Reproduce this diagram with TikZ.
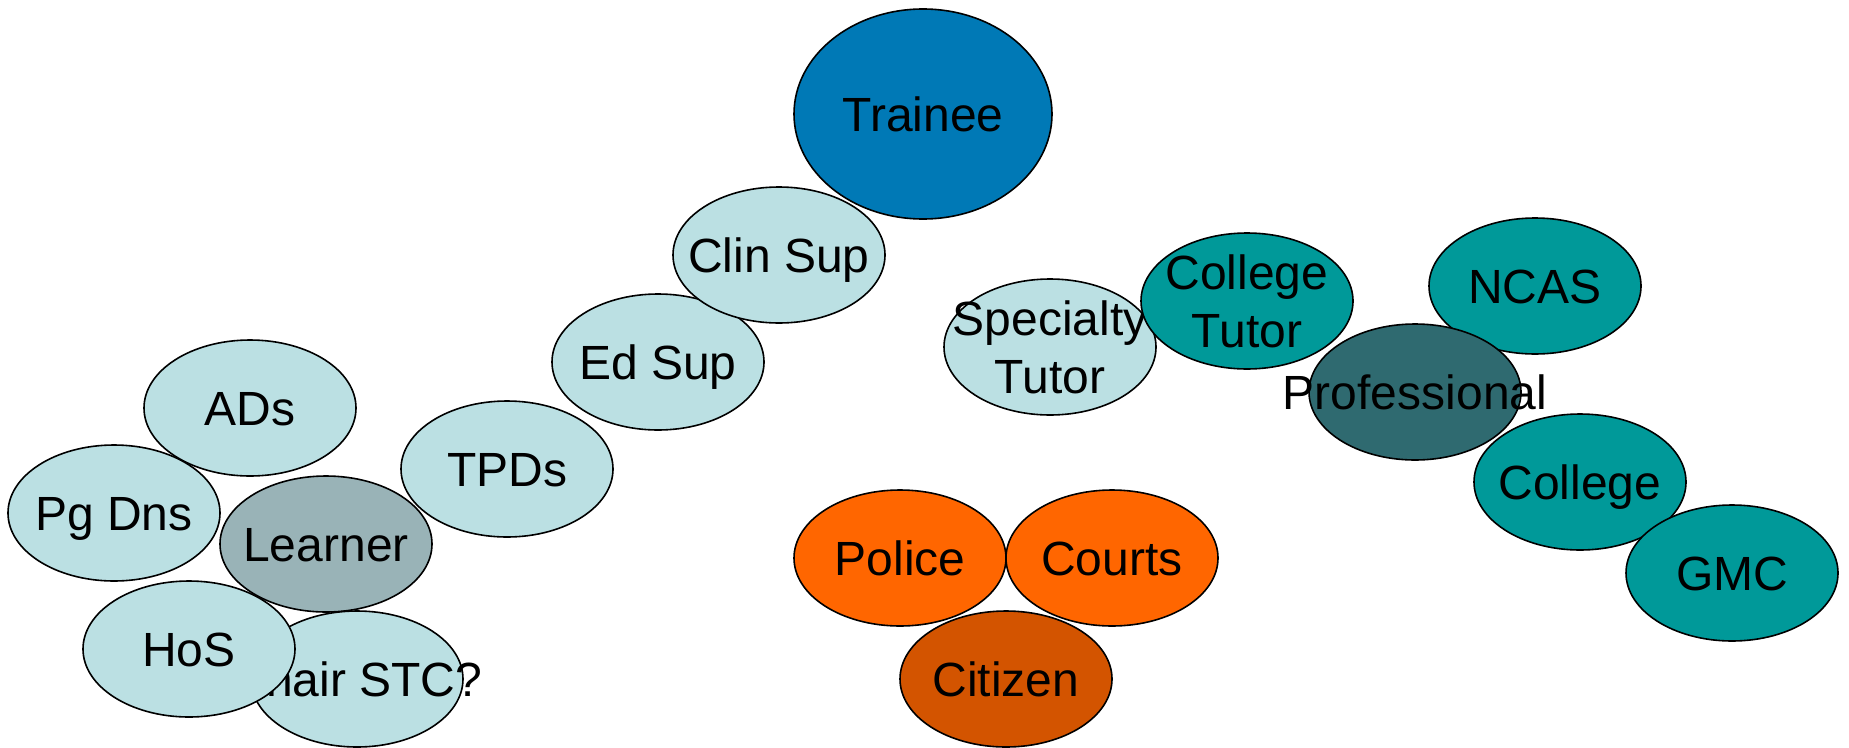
\documentclass[tikz,border=0pt]{standalone}
\usepackage{fontspec}
\setmainfont{Liberation Sans}
\usetikzlibrary{shapes.geometric}
\definecolor{lightb}{HTML}{BBE0E3}
\definecolor{learnc}{HTML}{99B3B7}
\definecolor{traineec}{HTML}{0079B6}
\definecolor{tealc}{HTML}{009999}
\definecolor{profc}{HTML}{2F6A70}
\definecolor{orangec}{HTML}{FF6600}
\definecolor{citizc}{HTML}{D35400}
\tikzset{
  oval/.style={ellipse, draw=black, line width=1.6pt, inner sep=0pt,
    minimum width=212pt, minimum height=136pt},
  txt/.style={inner sep=0pt, align=center,
    font=\fontsize{48}{57.6}\selectfont, text height=34.4pt, text depth=0pt},
  txttwo/.style={txt, text height=92pt},
  lb/.style={oval, fill=lightb},
  tl/.style={oval, fill=tealc},
  og/.style={oval, fill=orangec}
}
\begin{document}
\begin{tikzpicture}[x=1pt,y=-1pt]
\useasboundingbox (0,0) rectangle (1849,747);
\node[oval, fill=traineec, minimum width=258pt, minimum height=210pt,
  label={[txt, name=traineeT]center:Trainee}] (trainee) at (923,114) {};
\node[lb, label={[txt, name=edsupT]center:Ed Sup}] (edsup) at (658,362) {};
\node[lb, label={[txt, name=clinsupT]center:Clin Sup}] (clinsup) at (779,255) {};
\node[lb, label={[txt, name=tpdsT]center:TPDs}] (tpds) at (507,469) {};
\node[lb, label={[txt, name=adsT]center:ADs}] (ads) at (250,408) {};
\node[lb, label={[txt, name=pgdnsT]center:Pg Dns}] (pgdns) at (114,513) {};
\node[oval, fill=learnc, label={[txt, name=learnerT]center:Learner}] (learner) at (326,544) {};
\node[lb, label={[txt, name=chairT]center:Chair STC?}] (chair) at (357,679) {};
\node[lb, label={[txt, name=hosT]center:HoS}] (hos) at (189,649) {};
\node[lb, label={[txttwo, name=specT]center:{Specialty\\Tutor}}] (spec) at (1050,347) {};
\node[tl, label={[txttwo, name=coltutT]center:{College\\Tutor}}] (coltut) at (1247,301) {};
\node[tl, label={[txt, name=ncasT]center:NCAS}] (ncas) at (1535,286) {};
\node[oval, fill=profc, label={[txt, name=profT]center:Professional}] (prof) at (1415,392) {};
\node[tl, label={[txt, name=collegeT]center:College}] (college) at (1580,482) {};
\node[tl, label={[txt, name=gmcT]center:GMC}] (gmc) at (1732,573) {};
\node[og, label={[txt, name=policeT]center:Police}] (police) at (900,558) {};
\node[og, label={[txt, name=courtsT]center:Courts}] (courts) at (1112,558) {};
\node[oval, fill=citizc, label={[txt, name=citizenT]center:Citizen}] (citizen) at (1006,679) {};
\end{tikzpicture}
\end{document}
